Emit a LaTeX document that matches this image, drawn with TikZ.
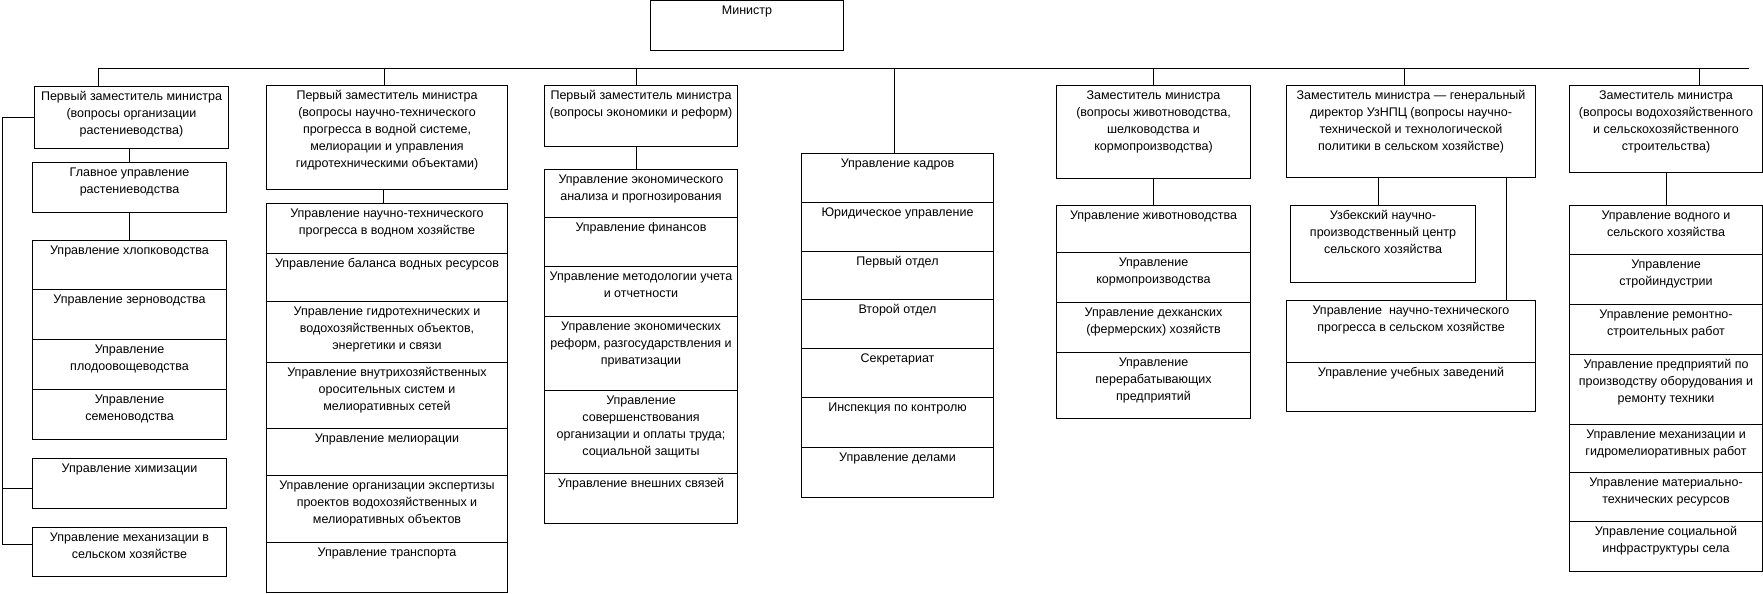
\documentclass[tikz,border=0pt]{standalone}
\usepackage{fontspec}
\setmainfont{Liberation Sans}
\usetikzlibrary{calc}
\tikzset{
  cell/.style={draw, line width=1bp, inner sep=0pt, outer sep=0pt, anchor=north west},
  link/.style={draw, line width=1bp},
}
\newcommand\orgcell[6]{\node[cell] (#1) at (#2,#3) {\parbox[t][#5bp][t]{#4bp}{\fontsize{12.5bp}{17bp}\selectfont\centering\rule{0pt}{14bp}#6}};}
\begin{document}
\begin{tikzpicture}[x=1bp,y=-1bp]
\useasboundingbox (0,0) rectangle (1763,594);
\begin{scope}[shift={(0.5,0.5)}]
% Minister
\orgcell{min}{650}{0}{193}{50}{Министр}
% column 1
\orgcell{B1}{34}{86}{194}{62}{Первый заместитель министра\\(вопросы организации\\растениеводства)}
\orgcell{B2}{32}{162}{194}{50}{Главное управление\\растениеводства}
\orgcell{G1a}{32}{240}{194}{49}{Управление хлопководства}
\orgcell{G1b}{32}{289}{194}{50}{Управление зерноводства}
\orgcell{G1c}{32}{339}{194}{50}{Управление\\плодоовощеводства}
\orgcell{G1d}{32}{389}{194}{50}{Управление\\семеноводства}
\orgcell{Him}{32}{458}{194}{50}{Управление химизации}
\orgcell{Mech}{32}{527}{194}{49}{Управление механизации в\\сельском хозяйстве}
% column 2
\orgcell{B3}{266}{85}{241}{104}{Первый заместитель министра\\(вопросы научно-технического\\прогресса в водной системе,\\мелиорации и управления\\гидротехническими объектами)}
\orgcell{G2a}{266}{203}{241}{50}{Управление научно-технического\\прогресса в водном хозяйстве}
\orgcell{G2b}{266}{253}{241}{48}{Управление баланса водных ресурсов}
\orgcell{G2c}{266}{301}{241}{61}{Управление гидротехнических и\\водохозяйственных объектов,\\энергетики и связи}
\orgcell{G2d}{266}{362}{241}{66}{Управление внутрихозяйственных\\оросительных систем и\\мелиоративных сетей}
\orgcell{G2e}{266}{428}{241}{47}{Управление мелиорации}
\orgcell{G2f}{266}{475}{241}{67}{Управление организации экспертизы\\проектов водохозяйственных и\\мелиоративных объектов}
\orgcell{G2g}{266}{542}{241}{50}{Управление транспорта}
% column 3
\orgcell{B4}{544}{85}{193}{61}{Первый заместитель министра\\(вопросы экономики и реформ)}
\orgcell{G3a}{544}{169}{193}{48}{Управление экономического\\анализа и прогнозирования}
\orgcell{G3b}{544}{217}{193}{49}{Управление финансов}
\orgcell{G3c}{544}{266}{193}{50}{Управление методологии учета\\и отчетности}
\orgcell{G3d}{544}{316}{193}{74}{Управление экономических\\реформ, разгосударствления и\\приватизации}
\orgcell{G3e}{544}{390}{193}{83}{Управление\\совершенствования\\организации и оплаты труда;\\социальной защиты}
\orgcell{G3f}{544}{473}{193}{50}{Управление внешних связей}
% column 4
\orgcell{G4a}{801}{153}{192}{49}{Управление кадров}
\orgcell{G4b}{801}{202}{192}{49}{Юридическое управление}
\orgcell{G4c}{801}{251}{192}{48}{Первый отдел}
\orgcell{G4d}{801}{299}{192}{49}{Второй отдел}
\orgcell{G4e}{801}{348}{192}{49}{Секретариат}
\orgcell{G4f}{801}{397}{192}{50}{Инспекция по контролю}
\orgcell{G4g}{801}{447}{192}{50}{Управление делами}
% column 5
\orgcell{B5}{1056}{85}{194}{93}{Заместитель министра\\(вопросы животноводства,\\шелководства и\\кормопроизводства)}
\orgcell{G5a}{1056}{205}{194}{47}{Управление животноводства}
\orgcell{G5b}{1056}{252}{194}{50}{Управление\\кормопроизводства}
\orgcell{G5c}{1056}{302}{194}{50}{Управление дехканских\\(фермерских) хозяйств}
\orgcell{G5d}{1056}{352}{194}{66}{Управление\\перерабатывающих\\предприятий}
% column 6
\orgcell{B6}{1286}{85}{249}{92}{Заместитель министра — генеральный\\директор УзНПЦ (вопросы научно-\\технической и технологической\\политики в сельском хозяйстве)}
\orgcell{B7}{1290}{205}{185}{77}{Узбекский научно-\\производственный центр\\сельского хозяйства}
\orgcell{G6a}{1286}{300}{249}{62}{Управление\ \ научно-технического\\прогресса в сельском хозяйстве}
\orgcell{G6b}{1286}{362}{249}{49}{Управление учебных заведений}
% column 7
\orgcell{B8}{1569}{85}{193}{87}{Заместитель министра\\(вопросы водохозяйственного\\и сельскохозяйственного\\строительства)}
\orgcell{G7a}{1569}{205}{193}{49}{Управление водного и\\сельского хозяйства}
\orgcell{G7b}{1569}{254}{193}{50}{Управление\\стройиндустрии}
\orgcell{G7c}{1569}{304}{193}{50}{Управление ремонтно-\\строительных работ}
\orgcell{G7d}{1569}{354}{193}{70}{Управление предприятий по\\производству оборудования и\\ремонту техники}
\orgcell{G7e}{1569}{424}{193}{48}{Управление механизации и\\гидромелиоративных работ}
\orgcell{G7f}{1569}{472}{193}{49}{Управление материально-\\технических ресурсов}
\orgcell{G7g}{1569}{521}{193}{50}{Управление социальной\\инфраструктуры села}
% bus
\coordinate (busL) at (98,68);
\coordinate (busR) at (1748,68);
\draw[link] (busL) -- (busR);
\draw[link] (busL) -- (busL |- B1.north);
\draw[link] ($(B3.north west)+(118,0)$) coordinate (v3) -- (v3 |- busL);
\draw[link] ($(B4.north west)+(92,0)$) coordinate (v4) -- (v4 |- busL);
\draw[link] ($(G4a.north west)+(93,0)$) coordinate (v5) -- (v5 |- busL);
\draw[link] (B5.north) -- (B5.north |- busL);
\draw[link] ($(B6.north west)+(118,0)$) coordinate (v6) -- (v6 |- busL);
\draw[link] ($(B8.north west)+(130,0)$) coordinate (v8) -- (v8 |- busL);
% column links
\draw[link] (B2.north |- B1.south) -- (B2.north);
\draw[link] (B2.south) -- (G1a.north);
\draw[link] ($(G2a.north west)+(117,0)$) coordinate (c3) -- (c3 |- B3.south);
\draw[link] ($(G3a.north west)+(92,0)$) coordinate (c4) -- (c4 |- B4.south);
\draw[link] (B5.south) -- (G5a.north);
\draw[link] ($(B7.north west)+(88,0)$) coordinate (c6) -- (c6 |- B6.south);
\draw[link] ($(G6a.north west)+(220,0)$) coordinate (c7) -- (c7 |- B6.south);
\draw[link] (B8.south) -- (G7a.north);
% left spine
\coordinate (sp) at ($(B1.west)+(-32,0)$);
\coordinate (jog) at ($(Him.south west)+(-30,11)$);
\draw[link] (B1.west) -- (sp) |- ($(Him.south west)+(0,-20)$);
\draw[link] (sp) -- (sp |- jog) -- (jog) |- ($(Mech.north west)+(0,17)$);
\end{scope}
\end{tikzpicture}
\end{document}
